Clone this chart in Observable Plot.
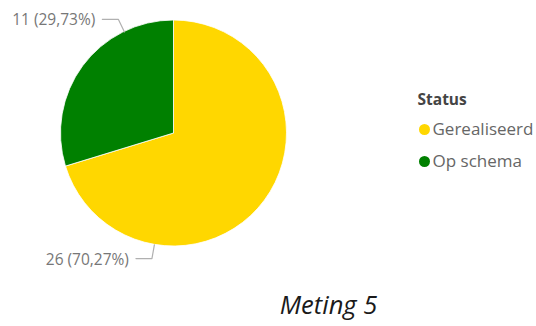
<!DOCTYPE html>
<html><head><meta charset="utf-8">
<script src="https://cdn.jsdelivr.net/npm/d3@7"></script>
<script src="https://cdn.jsdelivr.net/npm/@observablehq/plot@0.6"></script>
<style>html,body{margin:0;padding:0;background:#fff}</style>
</head><body><div id="chart"></div>
<script>
// ---- data ----
const categories = ["Gerealiseerd", "Op schema"];
const values = [26, 11];
const colors = ["#FFD700", "#008000"];
const labelTexts = ["26 (70,27%)", "11 (29,73%)"];
const labelAngles = [190, 334]; // where each leader line leaves the pie (degrees clockwise from top)
const legendTitle = "Status";
const chartTitle = "Meting 5";

// ---- layout ----
const W = 536, H = 326;
const cx = 173.5, cy = 133, R = 113;
const legendX = 424, legendTitleY = 100, legendY0 = 129, legendDY = 32;
const font = "'Open Sans', 'Noto Sans', sans-serif";

const rows = categories.map((c, i) => ({category: c, value: values[i], label: labelTexts[i], angle: labelAngles[i], i}));
const arcs = d3.pie().sort(null).value(d => d.value)(rows);

// leader lines and label positions from angles
const rad = a => a * Math.PI / 180;
const leader = [];
const labels = [];
for (const r of rows) {
  const a = rad(r.angle);
  const p0 = [cx + R * Math.sin(a), cy - R * Math.cos(a)];
  const p1 = [cx + (R + 14) * Math.sin(a), cy - (R + 14) * Math.cos(a)];
  const p2 = [p1[0] - 16, p1[1]];
  for (const p of [p0, p1, p2]) leader.push({x: p[0], y: p[1], z: r.category});
  labels.push({x: p2[0] - 7, y: p2[1] + 1, text: r.label});
}

function pieMark(index, scales) {
  const g = d3.create("svg:g");
  const arc = d3.arc().innerRadius(0).outerRadius(R);
  g.selectAll("path").data(arcs).join("path")
    .attr("transform", `translate(${scales.x(cx)},${scales.y(cy)})`)
    .attr("d", arc)
    .attr("fill", d => scales.color ? scales.color(d.data.category) : colors[d.data.i])
    .attr("stroke", "#ffffff")
    .attr("stroke-width", 0.8);
  return g.node();
}

const plot = Plot.plot({
  width: W, height: H,
  margin: 0,
  x: {domain: [0, W], range: [0, W], axis: null},
  y: {domain: [0, H], range: [0, H], axis: null},
  color: {domain: categories, range: colors},
  style: {fontFamily: font, background: "#fff"},
  marks: [
    pieMark,
    Plot.line(leader, {x: "x", y: "y", z: "z", stroke: "#b0b0b0", strokeWidth: 1.2}),
    Plot.text(labels, {x: "x", y: "y", text: "text", textAnchor: "end", fontSize: 15.5, fill: "#777", fontFamily: font}),
    Plot.text([legendTitle], {x: () => legendX - 7, y: () => legendTitleY, text: d => d, textAnchor: "start", fontSize: 15.5, fontWeight: "bold", fill: "#444", fontFamily: font}),
    Plot.dot(rows, {x: () => legendX, y: d => legendY0 + d.i * legendDY, r: 5.5, fill: "category"}),
    Plot.text(rows, {x: () => legendX + 8, y: d => legendY0 + d.i * legendDY, text: "category", textAnchor: "start", fontSize: 17, fill: "#666", fontFamily: font}),
    Plot.text([chartTitle], {x: () => 328, y: () => 305, text: d => d, textAnchor: "middle", fontSize: 25.5, fontStyle: "italic", fill: "#1a1a1a", fontFamily: font})
  ]
});
document.getElementById("chart").appendChild(plot);
</script>
</body></html>
